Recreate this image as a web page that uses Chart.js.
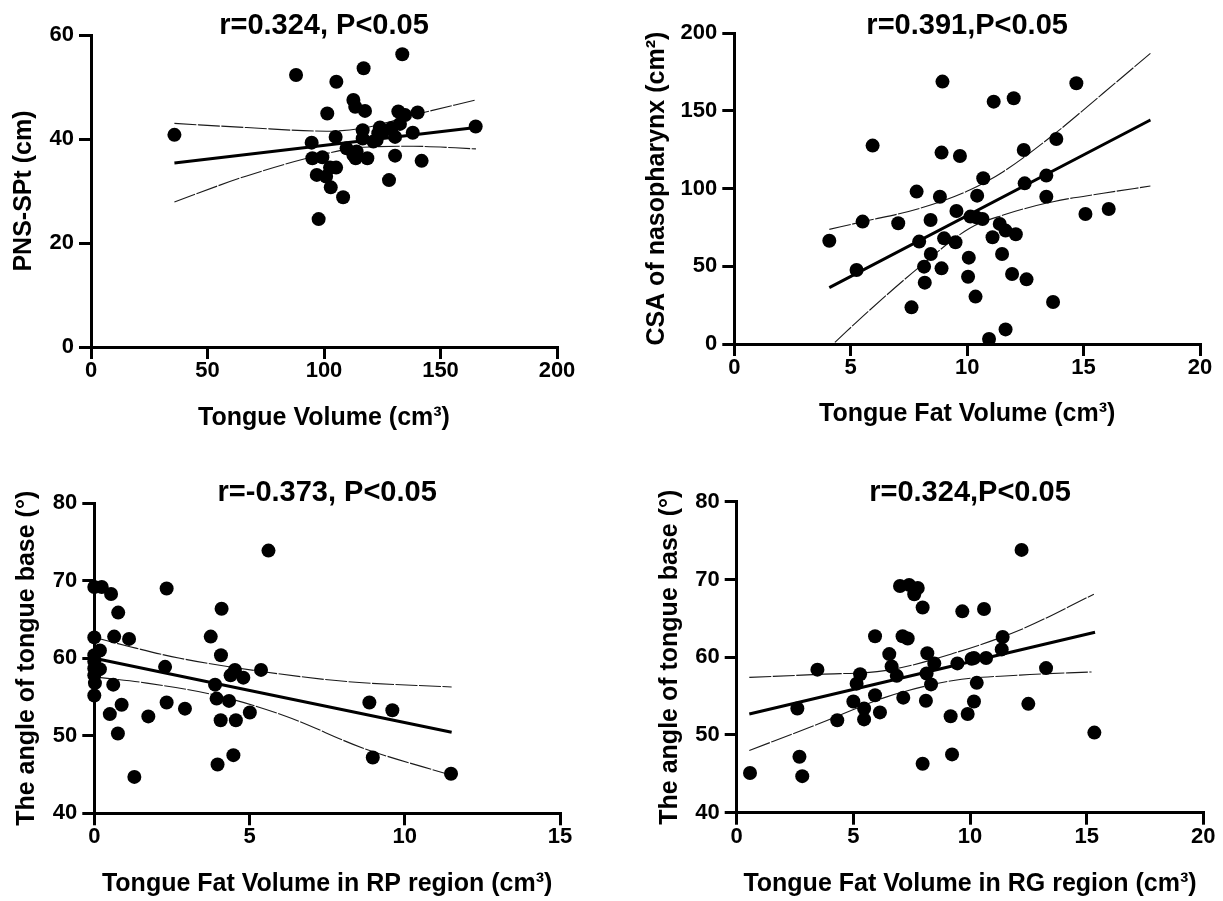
<!DOCTYPE html>
<html>
<head>
<meta charset="utf-8">
<title>Tongue fat correlations</title>
<script src="https://cdn.jsdelivr.net/npm/chart.js@4.4.0/dist/chart.umd.min.js"></script>
<style>
    html, body {
        margin: 0;
        padding: 0;
        background: #fff;
    }

    #page {
        position: relative;
        width: 1223px;
        height: 901px;
        overflow: hidden;
    }

    #page canvas {
        position: absolute;
    }
</style>
</head>
<body>
<div id="page">
    <canvas id="panelA" width="611" height="445" style="left:0;top:0"></canvas>
    <canvas id="panelB" width="612" height="445" style="left:611px;top:0"></canvas>
    <canvas id="panelC" width="611" height="456" style="left:0;top:445px"></canvas>
    <canvas id="panelD" width="612" height="456" style="left:611px;top:445px"></canvas>
</div>
<script>
// Panel A: tongue volume vs PNS-SPt
const tongueVolume = [35.8, 88.0, 105.3, 117.0, 133.6, 112.6, 113.4, 117.6, 101.4, 131.9, 134.8, 140.2, 116.6, 124.0, 129.0, 132.6, 130.5, 138.1, 165.1, 94.7, 105.0, 116.6, 122.6, 123.3, 109.7, 114.0, 112.6, 113.6, 118.6, 95.0, 99.3, 130.5, 141.9, 102.6, 105.2, 96.9, 100.9, 102.9, 108.2, 127.9, 97.7, 121.2, 125.4];
const pnsSpt = [40.8, 52.3, 51.0, 53.6, 56.3, 47.5, 46.2, 45.4, 44.9, 45.3, 44.6, 45.1, 41.7, 42.2, 42.1, 42.9, 40.4, 41.2, 42.4, 39.3, 40.4, 40.1, 39.8, 41.1, 38.2, 37.6, 36.9, 36.3, 36.3, 36.3, 36.5, 36.8, 35.8, 34.5, 34.5, 33.1, 32.8, 30.7, 28.8, 32.1, 24.6, 39.5, 41.4];
const volumeFitX = [35.8, 165.2];
const pnsFitY = [35.4, 42.2];
const volumeBandX = [35.8, 66.8, 101.1, 116.9, 138.3, 165.2];
const pnsUpper = [43.0, 42.2, 41.5, 42.1, 44.6, 47.5];
const pnsLower = [27.9, 32.9, 37.2, 38.4, 38.6, 38.1];

// Panel B: tongue fat volume vs CSA of nasopharynx
const tongueFat = [8.94, 14.69, 11.14, 12.0, 5.94, 8.90, 9.69, 12.43, 13.83, 10.69, 12.47, 13.40, 13.40, 7.83, 8.83, 10.43, 9.54, 5.51, 7.04, 8.43, 10.14, 10.40, 10.66, 15.08, 16.08, 4.08, 7.94, 9.01, 9.50, 11.40, 11.65, 12.09, 11.09, 8.44, 11.50, 8.15, 8.90, 10.07, 5.25, 8.18, 10.04, 11.93, 12.55, 10.36, 7.61, 13.69, 11.65, 10.94];
const csaNasopharynx = [168.9, 167.8, 156.0, 158.2, 127.7, 123.2, 121.0, 124.9, 132.0, 106.7, 103.4, 108.4, 94.8, 98.1, 94.8, 95.5, 85.6, 78.8, 77.7, 79.8, 82.0, 81.5, 80.5, 83.7, 86.9, 66.5, 65.9, 68.0, 65.5, 77.3, 73.0, 70.6, 68.7, 57.9, 57.9, 49.8, 48.7, 55.6, 47.6, 39.5, 43.3, 45.1, 41.6, 30.5, 23.6, 27.0, 9.4, 3.2];
const fatFitX = [4.08, 17.87];
const csaFitY = [36.3, 144.2];
const fatUpperX = [4.08, 5.54, 7.97, 10.11, 11.55, 13.69, 15.84, 17.87];
const csaUpper = [73.8, 78.8, 87.3, 99.1, 110.9, 134.5, 161.4, 187.1];
const fatLowerX = [4.32, 5.82, 7.97, 10.11, 11.55, 13.69, 15.84, 17.87];
const csaLower = [1.1, 21.9, 49.8, 74.5, 83.0, 91.6, 97.0, 101.7];

// Panel C: tongue fat in RP region vs tongue base angle
const rpFat = [5.61, 0, 0.24, 2.33, 0.54, 0.77, 4.10, 0, 0.64, 1.12, 3.75, 0.18, 0, 0, 0, 0.18, 0, 0.02, 0, 4.08, 2.28, 4.53, 4.39, 4.80, 5.37, 0.61, 3.89, 3.94, 4.34, 0.88, 2.33, 2.92, 8.86, 9.60, 0.50, 1.74, 4.07, 4.56, 5.01, 0.76, 4.48, 3.97, 8.97, 1.29, 11.49];
const rpAngle = [73.9, 69.2, 69.2, 69.0, 68.3, 65.9, 66.4, 62.7, 62.8, 62.5, 62.8, 61.0, 60.4, 59.6, 58.7, 58.6, 57.8, 56.8, 55.2, 60.4, 58.9, 58.5, 57.8, 57.5, 58.5, 56.6, 56.6, 54.8, 54.5, 54.0, 54.3, 53.5, 54.3, 53.3, 52.8, 52.5, 52.0, 52.0, 53.0, 50.3, 47.5, 46.3, 47.2, 44.7, 45.1];
const rpFitX = [0, 11.51];
const rpFitY = [60.0, 50.45];
const rpUpperX = [0, 1.15, 2.76, 5.39, 8.13, 11.51];
const rpUpper = [62.7, 61.5, 60.0, 58.3, 57.0, 56.3];
const rpLowerX = [0, 1.69, 4.05, 6.19, 8.66, 11.51];
const rpLower = [57.6, 56.8, 55.1, 52.5, 48.4, 44.9];

// Panel D: tongue fat in RG region vs tongue base angle
const rgFat = [12.21, 7.0, 7.39, 7.76, 7.61, 7.97, 9.67, 10.6, 5.93, 7.11, 7.33, 11.4, 11.36, 6.54, 8.17, 8.47, 9.46, 10.07, 10.17, 10.69, 3.46, 6.64, 6.86, 8.14, 13.26, 5.29, 5.14, 8.33, 10.29, 5.93, 7.14, 5.0, 5.46, 6.14, 5.46, 4.31, 8.11, 10.17, 9.17, 9.9, 2.6, 12.5, 2.69, 2.81, 0.57, 7.97, 9.23, 15.33];
const rgAngle = [73.8, 69.15, 69.3, 68.9, 68.1, 66.4, 65.9, 66.2, 62.7, 62.7, 62.4, 62.6, 61.0, 60.4, 60.5, 59.2, 59.2, 59.8, 59.9, 59.9, 58.4, 58.8, 57.6, 57.9, 58.6, 57.8, 56.6, 56.5, 56.7, 55.1, 54.8, 54.3, 53.4, 52.9, 52.0, 51.9, 54.4, 54.3, 52.4, 52.7, 53.4, 54.0, 47.2, 44.7, 45.1, 46.3, 47.5, 50.3];
const rgFitX = [0.54, 15.36];
const rgFitY = [52.7, 63.2];
const rgUpperX = [0.54, 3.57, 6.43, 9.29, 12.14, 15.31];
const rgUpper = [57.4, 57.8, 58.3, 60.5, 63.5, 68.1];
const rgLowerX = [0.54, 3.57, 6.43, 9.29, 12.14, 15.21];
const rgLower = [48.0, 51.5, 54.9, 57.0, 57.7, 58.1];

const FONT_FAMILY = '"Liberation Sans", Arial, Helvetica, sans-serif';
Chart.defaults.font.family = FONT_FAMILY;
Chart.defaults.color = '#000';

function toPoints(xs, ys) {
    return xs.map((x, i) => ({ x, y: ys[i] }));
}

function createAxis({ min, max, step, title, titlePadding, size, tickPadding }) {
    return {
        type: 'linear',
        min,
        max,
        ticks: {
            stepSize: step,
            padding: tickPadding,
            color: '#000',
            font: { size: 22, weight: 'bold', lineHeight: 1 }
        },
        grid: {
            drawOnChartArea: false,
            drawTicks: true,
            tickLength: 12,
            lineWidth: 3,
            color: '#000'
        },
        border: { display: true, width: 3, color: '#000' },
        title: {
            display: true,
            text: title,
            color: '#000',
            font: { size: 25, weight: 'bold', lineHeight: 1.2 },
            padding: titlePadding
        },
        afterFit: (scale) => {
            if (scale.isHorizontal()) {
                scale.height = size;
            } else {
                scale.width = size;
            }
        }
    };
}

function lineDataset(points, width, dash) {
    return {
        data: points,
        showLine: true,
        borderColor: width > 2 ? '#000' : '#1a1a1a',
        borderWidth: width,
        borderDash: dash,
        pointRadius: 0,
        tension: 0.4,
        cubicInterpolationMode: 'monotone'
    };
}

function createPanel(canvasId, panel) {
    const canvas = document.getElementById(canvasId);
    return new Chart(canvas, {
        type: 'scatter',
        data: {
            datasets: [
                {
                    data: toPoints(panel.xs, panel.ys),
                    pointRadius: 7,
                    pointBackgroundColor: '#000',
                    pointBorderWidth: 0,
                    showLine: false,
                    clip: false
                },
                lineDataset(toPoints(panel.fitX, panel.fitY), 3, []),
                lineDataset(toPoints(panel.upperX, panel.upper), 1.1, [22, 1.5]),
                lineDataset(toPoints(panel.lowerX, panel.lower), 1.1, [22, 1.5])
            ]
        },
        options: {
            responsive: false,
            animation: false,
            events: [],
            layout: {
                padding: { left: 0, top: 0, right: panel.padRight, bottom: 0 }
            },
            plugins: {
                legend: { display: false },
                tooltip: { enabled: false },
                title: {
                    display: true,
                    text: panel.title,
                    color: '#000',
                    fullSize: false,
                    font: { size: 29, weight: 'bold', lineHeight: 1 },
                    padding: panel.titlePadding
                }
            },
            scales: {
                x: createAxis({ ...panel.xAxis, tickPadding: 1 }),
                y: createAxis({ ...panel.yAxis, tickPadding: 5 })
            }
        }
    });
}

const panels = {
    panelA: {
        title: 'r=0.324, P<0.05',
        xs: tongueVolume, ys: pnsSpt,
        fitX: volumeFitX, fitY: pnsFitY,
        upperX: volumeBandX, upper: pnsUpper,
        lowerX: volumeBandX, lower: pnsLower,
        padRight: 54,
        titlePadding: { top: 11.5, bottom: -5.5 },
        xAxis: { min: 0, max: 200, step: 50, title: 'Tongue Volume (cm³)', size: 98, titlePadding: { top: 0, bottom: 12 } },
        yAxis: { min: 0, max: 60, step: 20, title: 'PNS-SPt (cm)', size: 91, titlePadding: { top: 9, bottom: 0 } }
    },
    panelB: {
        title: 'r=0.391,P<0.05',
        xs: tongueFat, ys: csaNasopharynx,
        fitX: fatFitX, fitY: csaFitY,
        upperX: fatUpperX, upper: csaUpper,
        lowerX: fatLowerX, lower: csaLower,
        padRight: 23,
        titlePadding: { top: 11, bottom: -6.7 },
        xAxis: { min: 0, max: 20, step: 5, title: 'Tongue Fat Volume (cm³)', size: 101, titlePadding: { top: 0, bottom: 16 } },
        yAxis: { min: 0, max: 200, step: 50, title: 'CSA of nasopharynx (cm²)', size: 123.3, titlePadding: { top: 31, bottom: 0 } }
    },
    panelC: {
        title: 'r=-0.373, P<0.05',
        xs: rpFat, ys: rpAngle,
        fitX: rpFitX, fitY: rpFitY,
        upperX: rpUpperX, upper: rpUpper,
        lowerX: rpLowerX, lower: rpLower,
        padRight: 51,
        titlePadding: { top: 33, bottom: -3.7 },
        xAxis: { min: 0, max: 15, step: 5, title: 'Tongue Fat Volume in RP region (cm³)', size: 87.7, titlePadding: { top: 0, bottom: 2 } },
        yAxis: { min: 40, max: 80, step: 10, title: 'The angle of tongue base (°)', size: 94.3, titlePadding: { top: 12, bottom: 0 } }
    },
    panelD: {
        title: 'r=0.324,P<0.05',
        xs: rgFat, ys: rgAngle,
        fitX: rgFitX, fitY: rgFitY,
        upperX: rgUpperX, upper: rgUpper,
        lowerX: rgLowerX, lower: rgLower,
        padRight: 19.7,
        titlePadding: { top: 33, bottom: -5.3 },
        xAxis: { min: 0, max: 20, step: 5, title: 'Tongue Fat Volume in RG region (cm³)', size: 88.3, titlePadding: { top: 0, bottom: 2 } },
        yAxis: { min: 40, max: 80, step: 10, title: 'The angle of tongue base (°)', size: 125.7, titlePadding: { top: 44, bottom: 0 } }
    }
};

for (const [canvasId, panel] of Object.entries(panels)) {
    createPanel(canvasId, panel);
}
</script>
</body>
</html>
